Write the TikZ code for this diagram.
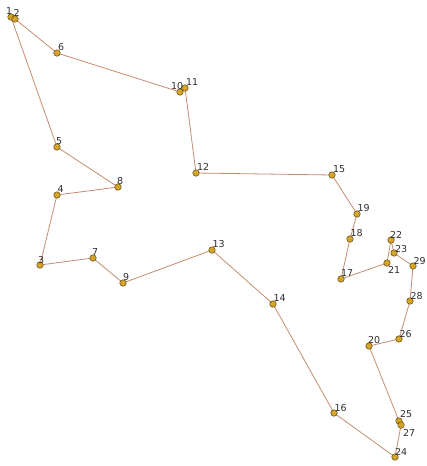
\documentclass[tikz,border=0pt]{standalone}
\usepackage{fontspec}
\setmainfont{DejaVu Sans}
\definecolor{edgec}{RGB}{196,140,112}
\definecolor{ptfill}{RGB}{214,165,40}
\definecolor{ptdraw}{RGB}{90,70,20}
\definecolor{labc}{RGB}{45,45,45}
\begin{document}
\begin{tikzpicture}[x=1pt,y=-1pt,
  pt/.style={circle,fill=ptfill,draw=ptdraw,line width=0.5pt,minimum size=6.5pt,inner sep=0pt},
  lab/.style={anchor=base west,inner sep=0pt,text=labc,font=\fontsize{9.5}{10}\selectfont},
  edge/.style={draw=edgec,line width=0.8pt}]
\useasboundingbox (0,0) rectangle (427,466);
\foreach \n/\x/\y in {1/11/17,2/15/19,6/57/53,10/180/92,11/185/88,12/196/173,15/332/175,19/357/214,18/350/239,17/341/279,21/387/263,22/391/240,23/394/253,29/413/266,28/410/301,26/399/339,20/369/346,25/399/421,27/401/425,24/395/457,16/334/413,14/273/304,13/212/250,9/123/283,7/93/258,3/40/265,4/57/195,8/118/187,5/57/147}
  \coordinate (p\n) at (\x,\y);
\draw[edge] (p1)--(p2)--(p6)--(p10)--(p11)--(p12)--(p15)--(p19)--(p18)--(p17)--(p21)--(p22)--(p23)--(p29)--(p28)--(p26)--(p20)--(p25)--(p27)--(p24)--(p16)--(p14)--(p13)--(p9)--(p7)--(p3)--(p4)--(p8)--(p5)--(p1);
\foreach \n in {1,2,6,10,11,12,15,19,18,17,21,22,23,29,28,26,20,25,27,24,16,14,13,9,7,3,4,8,5}{
  \node[pt] (n\n) at (p\n) {};
}
\foreach \n/\dx/\dy in {1/-5/-2.5,2/-1.5/-3,6/1/-3,10/-9/-2.5,11/1/-2.5,12/1/-2.5,15/1/-3,19/0.5/-2.5,18/0.5/-2.5,17/0/-2.5,21/1/10,22/-1/-2,23/1/-1,29/0.5/-2,28/0.5/-2,26/0.5/-2,20/-1/-2.5,25/1/-3.5,27/2/11,24/0/-2,16/0.5/-2,14/0.5/-2.5,13/0.5/-2.5,9/0/-2.5,7/-1/-2.5,3/-2/-1.5,4/0.5/-2.5,8/-1/-2.5,5/-1/-2.5}
  \node[lab] (l\n) at ([shift={(\dx,\dy)}]p\n) {\n};
\end{tikzpicture}
\end{document}
